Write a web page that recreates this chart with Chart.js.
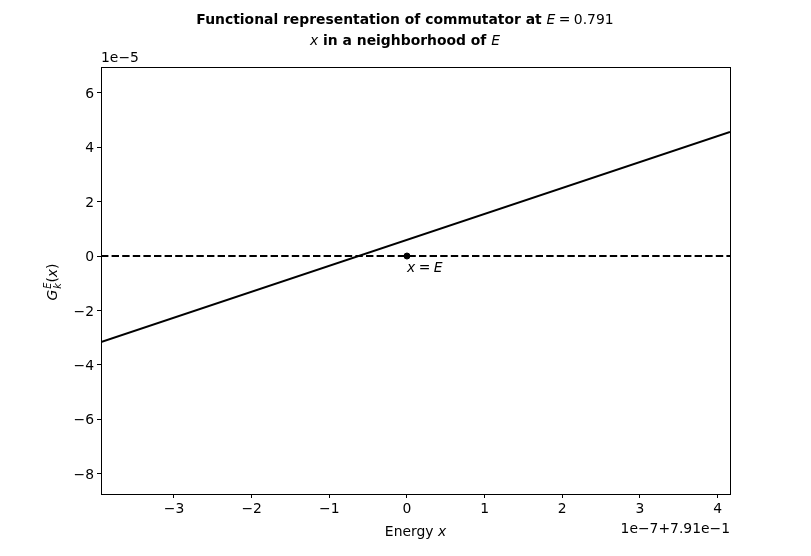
<!DOCTYPE html>
<html>
<head>
<meta charset="utf-8">
<script src="https://cdn.jsdelivr.net/npm/chart.js@4/dist/chart.umd.min.js"></script>
<style>
html,body{margin:0;padding:0;background:#fff;}
#wrap{width:811px;height:556px;}
</style>
</head>
<body>
<div id="wrap"><canvas id="c" width="811" height="556"></canvas></div>
<script>
// Data (x in units of 1e-7 offset from 0.791; y in units of 1e-5)
const lineX = [-3.94, 4.16];
const lineY = [-3.16, 4.56];
const zeroX = [-3.94, 4.16];
const zeroY = [0, 0];
const pointX = [0];
const pointY = [0];
const xTicks = [-3, -2, -1, 0, 1, 2, 3, 4];
const yTicks = [-8, -6, -4, -2, 0, 2, 4, 6];
const xLimits = [-3.94, 4.16];
const yLimits = [-8.75, 6.95];

const FF = '"DejaVu Sans", sans-serif';
const FS = 13.9;
const fmt = v => (v < 0 ? '\u2212' + Math.abs(v) : String(v));

function drawRuns(ctx, runs, x, y, align) {
  let total = 0;
  runs.forEach(r => { ctx.font = r.font; r.w = ctx.measureText(r.text).width; total += r.w; });
  let cx = align === 'center' ? x - total / 2 : (align === 'right' ? x - total : x);
  runs.forEach(r => {
    ctx.font = r.font;
    ctx.fillText(r.text, cx + (r.dx || 0), y + (r.dy || 0));
    cx += r.w;
  });
}

const deco = {
  id: 'deco',
  afterDraw(chart) {
    const ctx = chart.ctx;
    const a = chart.chartArea;
    const xs = chart.scales.x, ys = chart.scales.y;
    ctx.save();
    // frame
    ctx.strokeStyle = '#000';
    ctx.lineWidth = 1;
    ctx.strokeRect(Math.round(a.left) + 0.5, Math.round(a.top) + 0.5, Math.round(a.right - a.left), Math.round(a.bottom - a.top));
    ctx.fillStyle = '#000';
    ctx.textBaseline = 'alphabetic';
    const b = 'bold ' + FS + 'px ' + FF;
    const it = 'italic ' + FS + 'px ' + FF;
    const n = FS + 'px ' + FF;
    const sp = '\u2005';
    // title
    drawRuns(ctx, [
      {text: 'Functional representation of commutator at ', font: b},
      {text: 'E', font: it},
      {text: sp + '=' + sp + '0.791', font: n}
    ], 405, 24, 'center');
    drawRuns(ctx, [
      {text: 'x', font: it},
      {text: ' in a neighborhood of ', font: b},
      {text: 'E', font: it}
    ], 405, 45, 'center');
    // offset texts
    drawRuns(ctx, [{text: '1e\u22125', font: n}], a.left, 62, 'left');
    drawRuns(ctx, [{text: '1e\u22127+7.91e\u22121', font: n}], a.right, 533, 'right');
    // x label
    drawRuns(ctx, [
      {text: 'Energy ', font: n},
      {text: 'x', font: it}
    ], (a.left + a.right) / 2, 536, 'center');
    // annotation
    const px = xs.getPixelForValue(0), py = ys.getPixelForValue(0);
    drawRuns(ctx, [
      {text: 'x', font: it},
      {text: sp + '=' + sp, font: n},
      {text: 'E', font: it}
    ], px, py + 16, 'left');
    // y label rotated
    ctx.translate(57, 282);
    ctx.rotate(-Math.PI / 2);
    const small = 'italic ' + (FS * 0.7) + 'px ' + FF;
    ctx.font = it; const gw = ctx.measureText('G').width;
    ctx.font = small; const ew = ctx.measureText('E').width;
    ctx.font = n; const pw = ctx.measureText('(').width;
    ctx.font = it; const xw = ctx.measureText('x').width;
    ctx.font = n; const cw = ctx.measureText(')').width;
    const total = gw + ew + 1 + pw + xw + cw;
    let cx = -total / 2;
    ctx.font = it; ctx.fillText('G', cx, 0); cx += gw;
    ctx.font = small; ctx.fillText('E', cx + 1, -6); ctx.fillText('k', cx + 1, 4); cx += ew + 1;
    ctx.font = n; ctx.fillText('(', cx, 0); cx += pw;
    ctx.font = it; ctx.fillText('x', cx, 0); cx += xw;
    ctx.font = n; ctx.fillText(')', cx, 0);
    ctx.restore();
  }
};

new Chart(document.getElementById('c'), {
  type: 'scatter',
  data: {
    datasets: [
      {
        data: lineX.map((x, i) => ({x, y: lineY[i]})),
        showLine: true, borderColor: '#000', borderWidth: 2, pointRadius: 0, fill: false
      },
      {
        data: zeroX.map((x, i) => ({x, y: zeroY[i]})),
        showLine: true, borderColor: '#000', borderWidth: 2, borderDash: [7.4, 3.2], pointRadius: 0, fill: false
      },
      {
        data: pointX.map((x, i) => ({x, y: pointY[i]})),
        showLine: false, backgroundColor: '#000', borderColor: '#000', pointRadius: 3, pointHoverRadius: 3
      }
    ]
  },
  options: {
    responsive: false,
    animation: false,
    devicePixelRatio: 1,
    layout: {padding: {left: 0, right: 81, top: 67, bottom: 0}},
    plugins: {legend: {display: false}, tooltip: {enabled: false}, title: {display: false}},
    scales: {
      x: {
        type: 'linear', min: xLimits[0], max: xLimits[1],
        afterBuildTicks: s => { s.ticks = xTicks.map(v => ({value: v})); },
        afterFit: s => { s.height = 62; },
        grid: {drawOnChartArea: false, drawTicks: true, tickLength: 4, color: '#000', tickWidth: 1},
        border: {display: true, color: '#000', width: 1},
        ticks: {color: '#000', font: {family: FF, size: FS}, padding: 3, maxRotation: 0, autoSkip: false, callback: v => fmt(v)}
      },
      y: {
        type: 'linear', min: yLimits[0], max: yLimits[1],
        afterBuildTicks: s => { s.ticks = yTicks.map(v => ({value: v})); },
        afterFit: s => { s.width = 101; },
        grid: {drawOnChartArea: false, drawTicks: true, tickLength: 4, color: '#000', tickWidth: 1},
        border: {display: true, color: '#000', width: 1},
        ticks: {color: '#000', font: {family: FF, size: FS}, padding: 3, labelOffset: 1.5, autoSkip: false, callback: v => fmt(v)}
      }
    }
  },
  plugins: [deco]
});
</script>
</body>
</html>
